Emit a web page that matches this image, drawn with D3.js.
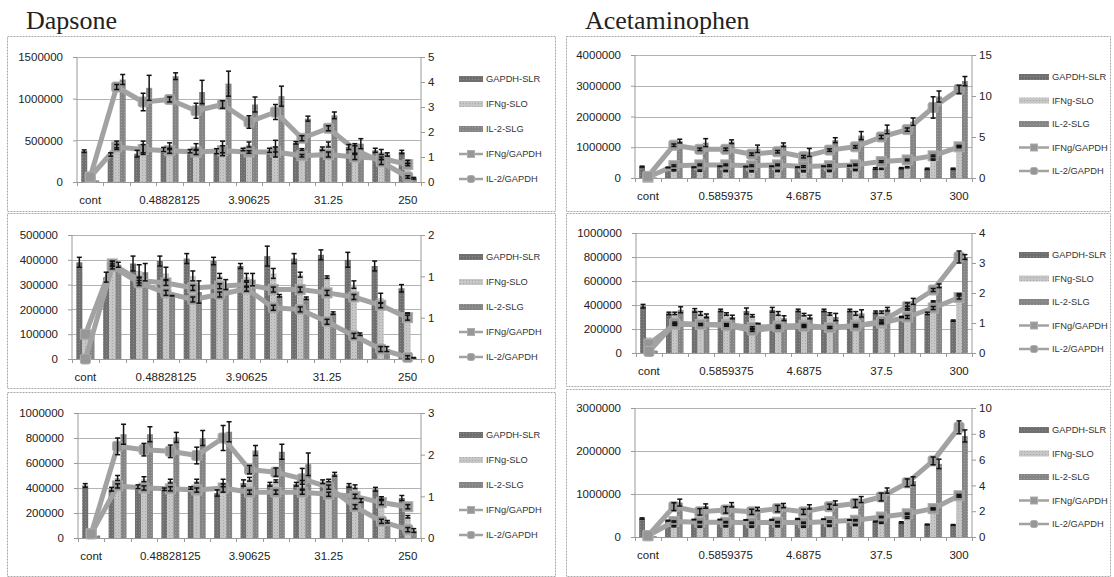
<!DOCTYPE html>
<html><head><meta charset="utf-8">
<script src="https://cdn.jsdelivr.net/npm/d3@7/dist/d3.min.js"></script>
<style>
body{margin:0;background:#fff;}
svg{display:block;}
.ax text{font-family:"Liberation Sans",Arial,sans-serif;font-size:11.5px;fill:#222;}
.leg text{font-family:"Liberation Sans",Arial,sans-serif;font-size:9.3px;fill:#333;}
.title{font-family:"Liberation Serif","Times New Roman",serif;font-size:26px;fill:#222;}
</style></head><body>
<svg id="c" width="1114" height="577"></svg>
<script>
// ---- categories (drug concentration, two-fold dilutions) ----
const dapsoneConc = ["cont","0.1220703125","0.244140625","0.48828125","0.9765625","1.953125","3.90625","7.8125","15.625","31.25","62.5","125","250"];
const acetConc = ["cont","0.146484375","0.29296875","0.5859375","1.171875","2.34375","4.6875","9.375","18.75","37.5","75","150","300"];
const seriesNames = ["GAPDH-SLR","IFNg-SLO","IL-2-SLG","IFNg/GAPDH","IL-2/GAPDH"];

// ---- Dapsone, donor 1 ----
const dap1Gapdh    = [370000,330000,340000,390000,370000,370000,390000,380000,470000,400000,420000,380000,360000];
const dap1GapdhErr = [15000,20000,40000,25000,20000,30000,15000,25000,15000,20000,30000,25000,20000];
const dap1Ifng     = [20000,450000,420000,430000,420000,420000,450000,430000,390000,450000,400000,360000,240000];
const dap1IfngErr  = [0,40000,70000,40000,40000,70000,30000,70000,10000,30000,60000,30000,20000];
const dap1Il2      = [20000,1230000,1130000,1270000,1080000,1180000,930000,1030000,760000,800000,460000,330000,45000];
const dap1Il2Err   = [0,60000,150000,40000,140000,150000,90000,120000,30000,40000,60000,20000,10000];
const dap1IfngRatio    = [0.2,1.4,1.3,1.25,1.2,1.25,1.2,1.2,1.05,1.1,1.0,0.95,0.7];
const dap1IfngRatioErr = [0,0.1,0.2,0.1,0.1,0.2,0.05,0.2,0.05,0.1,0.1,0.05,0.05];
const dap1Il2Ratio     = [0.2,3.8,3.2,3.3,2.85,3.1,2.4,2.8,1.75,2.15,1.3,0.8,0.2];
const dap1Il2RatioErr  = [0,0.1,0.35,0.1,0.3,0.15,0.25,0.3,0.1,0.1,0.15,0.1,0.05];
const dap1LeftTicks  = [0,500000,1000000,1500000];
const dap1RightTicks = [0,1,2,3,4,5];

// ---- Dapsone, donor 2 ----
const dap2Gapdh    = [390000,330000,385000,395000,405000,395000,375000,415000,405000,420000,400000,375000,285000];
const dap2GapdhErr = [20000,20000,30000,20000,20000,15000,10000,40000,20000,20000,30000,20000,15000];
const dap2Ifng     = [120000,385000,355000,345000,335000,335000,330000,345000,340000,330000,300000,245000,185000];
const dap2IfngErr  = [10000,10000,25000,25000,20000,10000,15000,20000,10000,5000,15000,20000,0];
const dap2Il2      = [110000,380000,350000,255000,270000,300000,320000,255000,245000,185000,100000,40000,5000];
const dap2Il2Err   = [0,10000,35000,0,45000,20000,25000,5000,5000,5000,5000,10000,0];
const dap2IfngRatio    = [0.3,1.15,0.95,0.92,0.86,0.88,0.9,0.84,0.84,0.8,0.75,0.65,0.5];
const dap2IfngRatioErr = [0,0.03,0.03,0.03,0.03,0.03,0.03,0.03,0.03,0.03,0.03,0.03,0.03];
const dap2Il2Ratio     = [0.0,1.12,0.92,0.8,0.72,0.78,0.85,0.62,0.6,0.45,0.28,0.12,0.02];
const dap2Il2RatioErr  = [0,0.03,0.03,0.03,0.03,0.03,0.03,0.03,0.03,0.03,0.03,0.03,0.02];
const dap2LeftTicks  = [0,100000,200000,300000,400000,500000];
const dap2RightTicks = [0,0.5,1,1.5];

// ---- Dapsone, donor 3 ----
const dap3Gapdh    = [420000,390000,410000,390000,400000,360000,440000,430000,430000,450000,420000,390000,320000];
const dap3GapdhErr = [15000,15000,15000,10000,10000,25000,25000,15000,15000,15000,15000,15000,20000];
const dap3Ifng     = [20000,480000,470000,455000,455000,440000,470000,455000,445000,460000,410000,320000,170000];
const dap3IfngErr  = [0,20000,20000,15000,15000,30000,15000,10000,15000,10000,15000,10000,10000];
const dap3Il2      = [20000,830000,830000,805000,800000,850000,700000,690000,590000,510000,300000,130000,60000];
const dap3Il2Err   = [0,80000,60000,40000,60000,80000,40000,60000,90000,15000,15000,10000,15000];
const dap3IfngRatio    = [0.1,1.25,1.2,1.18,1.15,1.2,1.1,1.1,1.1,1.05,1.0,0.85,0.75];
const dap3IfngRatioErr = [0,0.05,0.05,0.05,0.05,0.1,0.05,0.05,0.05,0.05,0.05,0.05,0.05];
const dap3Il2Ratio     = [0.1,2.2,2.12,2.08,1.98,2.4,1.64,1.58,1.42,1.22,0.75,0.4,0.2];
const dap3Il2RatioErr  = [0,0.2,0.15,0.15,0.2,0.3,0.1,0.1,0.25,0.05,0.05,0.05,0.05];
const dap3LeftTicks  = [0,200000,400000,600000,800000,1000000];
const dap3RightTicks = [0,1,2,3];

// ---- Acetaminophen, donor 1 ----
const acet1Gapdh    = [370000,340000,350000,380000,370000,380000,350000,380000,400000,310000,320000,300000,300000];
const acet1GapdhErr = [15000,10000,10000,10000,10000,10000,10000,10000,15000,25000,20000,20000,20000];
const acet1Ifng     = [10000,250000,240000,230000,220000,230000,220000,230000,260000,300000,350000,600000,1040000];
const acet1IfngErr  = [0,20000,20000,20000,20000,20000,20000,20000,20000,20000,20000,20000,20000];
const acet1Il2      = [20000,1200000,1150000,1180000,950000,1080000,830000,1230000,1380000,1580000,1830000,2650000,3150000];
const acet1Il2Err   = [0,60000,130000,60000,120000,60000,130000,80000,130000,140000,120000,180000,150000];
const acet1IfngRatio    = [0.1,1.5,1.6,1.6,1.5,1.6,1.4,1.5,1.6,2.0,2.2,2.7,3.8];
const acet1IfngRatioErr = [0,0.1,0.1,0.1,0.1,0.1,0.1,0.1,0.1,0.1,0.1,0.1,0.1];
const acet1Il2Ratio     = [0.2,4.0,3.5,3.5,2.9,3.2,2.6,3.4,3.8,5.0,5.9,8.6,10.8];
const acet1Il2RatioErr  = [0,0.15,0.15,0.15,0.15,0.15,0.15,0.15,0.15,0.2,0.2,1.3,0.5];
const acet1LeftTicks  = [0,1000000,2000000,3000000,4000000];
const acet1RightTicks = [0,5,10,15];

// ---- Acetaminophen, donor 2 ----
const acet2Gapdh    = [390000,330000,355000,355000,350000,360000,355000,355000,355000,340000,300000,330000,270000];
const acet2GapdhErr = [15000,10000,15000,10000,25000,20000,10000,10000,10000,10000,5000,10000,5000];
const acet2Ifng     = [130000,330000,330000,325000,310000,330000,320000,325000,330000,340000,380000,430000,490000];
const acet2IfngErr  = [5000,10000,15000,10000,10000,15000,10000,10000,15000,10000,10000,5000,5000];
const acet2Il2      = [20000,360000,310000,300000,245000,290000,300000,300000,330000,365000,430000,560000,800000];
const acet2Il2Err   = [0,25000,15000,15000,0,20000,15000,30000,30000,15000,25000,15000,20000];
const acet2IfngRatio    = [0.3,0.95,0.95,0.95,0.85,0.9,0.92,0.85,0.92,1.0,1.2,1.5,1.85];
const acet2IfngRatioErr = [0,0.03,0.03,0.03,0.03,0.03,0.03,0.03,0.03,0.03,0.05,0.05,0.05];
const acet2Il2Ratio     = [0.05,1.0,0.95,0.92,0.75,0.85,0.88,0.85,0.9,1.05,1.55,2.1,3.2];
const acet2Il2RatioErr  = [0,0.03,0.03,0.03,0.03,0.03,0.03,0.03,0.03,0.05,0.12,0.05,0.2];
const acet2LeftTicks  = [0,200000,400000,600000,800000,1000000];
const acet2RightTicks = [0,1,2,3,4];

// ---- Acetaminophen, donor 3 ----
const acet3Gapdh    = [430000,380000,400000,400000,390000,400000,420000,410000,390000,360000,340000,290000,280000];
const acet3GapdhErr = [15000,10000,5000,5000,5000,10000,10000,5000,5000,10000,15000,10000,10000];
const acet3Ifng     = [10000,250000,240000,250000,240000,250000,240000,260000,280000,330000,450000,650000,950000];
const acet3IfngErr  = [0,15000,15000,15000,15000,15000,15000,15000,15000,15000,20000,20000,20000];
const acet3Il2      = [20000,800000,720000,750000,650000,730000,700000,790000,870000,1080000,1300000,1700000,2350000];
const acet3Il2Err   = [0,80000,50000,50000,40000,50000,50000,50000,70000,60000,100000,110000,140000];
const acet3IfngRatio    = [0.1,1.2,1.15,1.15,1.1,1.15,1.1,1.2,1.3,1.55,1.8,2.2,3.2];
const acet3IfngRatioErr = [0,0.05,0.05,0.05,0.05,0.05,0.05,0.05,0.05,0.05,0.05,0.05,0.1];
const acet3Il2Ratio     = [0.1,2.35,1.95,2.1,1.95,2.2,1.95,2.35,2.6,3.1,4.2,5.9,8.5];
const acet3Il2RatioErr  = [0,0.3,0.25,0.25,0.2,0.25,0.2,0.2,0.3,0.3,0.3,0.3,0.5];
const acet3LeftTicks  = [0,1000000,2000000,3000000];
const acet3RightTicks = [0,2,4,6,8,10];

// ---- panel assembly ----
const panels = [
  {cats:dapsoneConc, bars:[[dap1Gapdh,dap1GapdhErr],[dap1Ifng,dap1IfngErr],[dap1Il2,dap1Il2Err]],
   lines:[[dap1IfngRatio,dap1IfngRatioErr],[dap1Il2Ratio,dap1Il2RatioErr]], lt:dap1LeftTicks, rt:dap1RightTicks,
   box:[7,36,555,211], plot:[77,421,57,182], leg:[459,24,25]},
  {cats:dapsoneConc, bars:[[dap2Gapdh,dap2GapdhErr],[dap2Ifng,dap2IfngErr],[dap2Il2,dap2Il2Err]],
   lines:[[dap2IfngRatio,dap2IfngRatioErr],[dap2Il2Ratio,dap2Il2RatioErr]], lt:dap2LeftTicks, rt:dap2RightTicks,
   box:[7,213,555,388], plot:[72,421,235,359], leg:[459,24,25]},
  {cats:dapsoneConc, bars:[[dap3Gapdh,dap3GapdhErr],[dap3Ifng,dap3IfngErr],[dap3Il2,dap3Il2Err]],
   lines:[[dap3IfngRatio,dap3IfngRatioErr],[dap3Il2Ratio,dap3Il2RatioErr]], lt:dap3LeftTicks, rt:dap3RightTicks,
   box:[7,392,555,576], plot:[78,421,413,538], leg:[459,24,25]},
  {cats:acetConc, bars:[[acet1Gapdh,acet1GapdhErr],[acet1Ifng,acet1IfngErr],[acet1Il2,acet1Il2Err]],
   lines:[[acet1IfngRatio,acet1IfngRatioErr],[acet1Il2Ratio,acet1Il2RatioErr]], lt:acet1LeftTicks, rt:acet1RightTicks,
   box:[566,36,1110,211], plot:[635,972,55,178], leg:[1019,30,23.5]},
  {cats:acetConc, bars:[[acet2Gapdh,acet2GapdhErr],[acet2Ifng,acet2IfngErr],[acet2Il2,acet2Il2Err]],
   lines:[[acet2IfngRatio,acet2IfngRatioErr],[acet2Il2Ratio,acet2Il2RatioErr]], lt:acet2LeftTicks, rt:acet2RightTicks,
   box:[566,213,1110,386], plot:[636,972,233,353], leg:[1019,30,23.5]},
  {cats:acetConc, bars:[[acet3Gapdh,acet3GapdhErr],[acet3Ifng,acet3IfngErr],[acet3Il2,acet3Il2Err]],
   lines:[[acet3IfngRatio,acet3IfngRatioErr],[acet3Il2Ratio,acet3Il2RatioErr]], lt:acet3LeftTicks, rt:acet3RightTicks,
   box:[566,389,1110,576], plot:[635,972,408,537], leg:[1019,30,23.5]}
];

const svg = d3.select("#c");
const defs = svg.append("defs");

// halftone-like fills for the three bar series
const barFills = [["#6f6f6f","#8a8a8a"],["#c6c6c6","#a9a9a9"],["#858585","#9e9e9e"]];
barFills.forEach((c,i)=>{
  const p = defs.append("pattern").attr("id","pat"+i).attr("patternUnits","userSpaceOnUse")
    .attr("width",3).attr("height",3);
  p.append("rect").attr("width",3).attr("height",3).attr("fill",c[0]);
  p.append("rect").attr("x",1).attr("y",1).attr("width",1).attr("height",1).attr("fill",c[1]);
});
const lineColor = "#a2a2a2", markerColor = "#979797";

svg.append("text").attr("class","title").attr("x",26).attr("y",29).text("Dapsone");
svg.append("text").attr("class","title").attr("x",585).attr("y",29).text("Acetaminophen");

panels.forEach(p=>{
  const [l,r,t,b] = p.plot;
  const g = svg.append("g");
  g.append("rect").attr("x",p.box[0]+0.5).attr("y",p.box[1]+0.5)
    .attr("width",p.box[2]-p.box[0]).attr("height",p.box[3]-p.box[1])
    .attr("fill","none").attr("stroke","#a8a8a8").attr("stroke-dasharray","2,1");

  const x = d3.scaleBand().domain(p.cats).range([l,r]).padding(0);
  const bw = x.bandwidth();
  const inner = d3.scaleBand().domain([0,1,2]).range([bw*0.16, bw*0.84]);
  const yL = d3.scaleLinear().domain([0,d3.max(p.lt)]).range([b,t]);
  const yR = d3.scaleLinear().domain([0,d3.max(p.rt)]).range([b,t]);

  // gridlines
  g.append("g").selectAll("line").data(p.lt.slice(1)).join("line")
    .attr("x1",l).attr("x2",r).attr("y1",d=>Math.round(yL(d))+0.5).attr("y2",d=>Math.round(yL(d))+0.5)
    .attr("stroke","#b3b3b3");

  // axes
  const axL = g.append("g").attr("class","ax").attr("transform",`translate(${l},0)`)
    .call(d3.axisLeft(yL).tickValues(p.lt).tickSize(4).tickPadding(10).tickFormat(d3.format("d")));
  const axR = g.append("g").attr("class","ax").attr("transform",`translate(${r},0)`)
    .call(d3.axisRight(yR).tickValues(p.rt).tickSize(4).tickPadding(3).tickFormat(d=>String(Math.round(d))));
  const axB = g.append("g").attr("class","ax").attr("transform",`translate(0,${b})`)
    .call(d3.axisBottom(x).tickSize(0).tickPadding(14).tickFormat((d,i)=> i%3===0 ? d : ""));
  [axL,axR,axB].forEach(a=>{
    a.selectAll(".domain").attr("stroke","#9a9a9a");
    a.selectAll(".tick line").attr("stroke","#9a9a9a");
  });
  axR.select(".domain").attr("d",`M0,${t}V${b}`);
  axL.select(".domain").attr("d",`M0,${t}V${b}`);
  // category boundary ticks
  g.append("g").selectAll("line").data(p.cats.map(c=>x(c)).concat([r])).join("line")
    .attr("x1",d=>Math.round(d)+0.5).attr("x2",d=>Math.round(d)+0.5).attr("y1",b).attr("y2",b+4)
    .attr("stroke","#9a9a9a");

  // bars
  p.bars.forEach(([vals,errs],si)=>{
    g.append("g").selectAll("rect").data(vals).join("rect")
      .attr("x",(d,i)=>x(p.cats[i])+inner(si)).attr("width",inner.bandwidth())
      .attr("y",d=>yL(d)).attr("height",d=>b-yL(d))
      .attr("fill",`url(#pat${si})`);
  });

  // ratio lines on secondary axis
  p.lines.forEach(([vals],li)=>{
    const line = d3.line().x((d,i)=>x(p.cats[i])+bw/2).y(d=>yR(d));
    g.append("path").datum(vals).attr("d",line).attr("fill","none")
      .attr("stroke",lineColor).attr("stroke-width",5).attr("stroke-linejoin","round");
    g.append("g").selectAll("rect").data(vals).join("rect")
      .attr("x",(d,i)=>x(p.cats[i])+bw/2-5).attr("y",d=>yR(d)-5)
      .attr("width",10).attr("height",10).attr("rx",li===1?2:0)
      .attr("fill",markerColor).attr("stroke","#adadad").attr("stroke-width",1);
  });

  // error bars
  const eb = g.append("g").attr("stroke","#111").attr("stroke-width",1.5);
  const drawErr = (cx,y0,y1)=>{
    if (Math.abs(y1-y0) < 0.5) { eb.append("line").attr("x1",cx-2.5).attr("x2",cx+2.5).attr("y1",y0).attr("y2",y0).attr("stroke-width",2); return; }
    eb.append("line").attr("x1",cx).attr("x2",cx).attr("y1",y0).attr("y2",y1);
    eb.append("line").attr("x1",cx-2.5).attr("x2",cx+2.5).attr("y1",y0).attr("y2",y0);
    eb.append("line").attr("x1",cx-2.5).attr("x2",cx+2.5).attr("y1",y1).attr("y2",y1);
  };
  p.bars.forEach(([vals,errs],si)=>{
    vals.forEach((v,i)=>{
      if (i===0 && si>0) return;
      const cx = x(p.cats[i])+inner(si)+inner.bandwidth()/2;
      drawErr(cx, yL(v+errs[i]), yL(Math.max(0,v-errs[i])));
    });
  });
  p.lines.forEach(([vals,errs])=>{
    vals.forEach((v,i)=>{
      if (i===0) return;
      const cx = x(p.cats[i])+bw/2;
      drawErr(cx, yR(v+errs[i]), yR(Math.max(0,v-errs[i])));
    });
  });

  // legend
  const [lx,lw,dy] = p.leg;
  const leg = g.append("g").attr("class","leg");
  seriesNames.forEach((name,i)=>{
    const yy = t + 22 + i*dy;
    if (i<3) {
      leg.append("rect").attr("x",lx).attr("y",yy-3).attr("width",lw).attr("height",6).attr("fill",`url(#pat${i})`);
    } else {
      leg.append("line").attr("x1",lx).attr("x2",lx+lw).attr("y1",yy).attr("y2",yy)
        .attr("stroke",lineColor).attr("stroke-width",2.5);
      leg.append("rect").attr("x",lx+lw/2-3.5).attr("y",yy-3.5).attr("width",7).attr("height",7)
        .attr("rx",i===4?2:0).attr("fill",markerColor).attr("stroke","#adadad");
    }
    leg.append("text").attr("x",lx+lw+3).attr("y",yy).attr("dy","0.35em").text(name);
  });
});
</script>
</body></html>
